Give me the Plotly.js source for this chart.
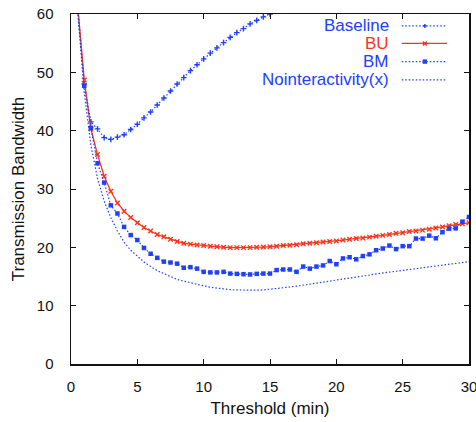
<!DOCTYPE html>
<html>
<head>
<meta charset="utf-8">
<script src="https://cdn.plot.ly/plotly-3.0.1.min.js"></script>
<style>
  html, body { margin: 0; padding: 0; background: #fff; }
  #chart { width: 476px; height: 422px; }
</style>
</head>
<body>
<div id="chart"></div>
<script>
// ---- data ----
const threshold = [0.5,1,1.5,2,2.5,3,3.5,4,4.5,5,5.5,6,6.5,7,7.5,8,8.5,9,9.5,10,
  10.5,11,11.5,12,12.5,13,13.5,14,14.5,15,15.5,16,16.5,17,17.5,18,18.5,19,19.5,20,
  20.5,21,21.5,22,22.5,23,23.5,24,24.5,25,25.5,26,26.5,27,27.5,28,28.5,29,29.5,30];

const baseline = [61.5,48.0,41.5,40.3,38.8,38.5,38.9,39.3,40.2,41.1,42.2,43.2,44.4,45.6,46.8,48.0,
  49.1,50.3,51.3,52.3,53.3,54.2,55.1,56.0,56.8,57.5,58.3,58.9,59.5,60.0,60.6,61.2];

const bu = [61.5,48.7,40.3,35.9,32.2,29.6,27.6,26.2,25.1,24.2,23.4,22.8,22.2,21.8,21.4,21.0,
  20.7,20.55,20.4,20.3,20.2,20.1,20.0,19.95,19.95,19.95,19.95,20.0,20.05,20.1,20.2,20.3,
  20.35,20.45,20.6,20.7,20.8,20.9,21.0,21.1,21.25,21.4,21.5,21.6,21.75,21.9,22.05,22.2,
  22.4,22.5,22.7,22.8,22.95,23.1,23.3,23.5,23.7,23.9,24.05,24.2];

const bm = [61.0,47.7,40.5,34.4,31.1,27.2,25.8,23.5,22.1,21.25,19.9,18.9,18.2,17.55,17.4,17.2,
  16.5,16.6,16.35,15.8,15.7,15.7,15.8,15.5,15.45,15.4,15.35,15.45,15.5,15.5,16.1,16.2,
  16.2,15.8,16.7,16.35,16.7,16.9,17.65,17.1,18.1,18.3,17.95,18.5,18.8,19.5,19.8,20.3,
  19.7,20.2,20.2,21.5,21.5,22.0,21.55,22.6,23.2,23.25,24.4,25.2];

const noInteractivity = [60.5,46.5,37.5,31.8,27.9,25.1,22.8,20.9,19.5,18.5,17.5,16.7,16.0,15.5,15.0,14.5,
  14.2,13.9,13.6,13.4,13.15,13.0,12.9,12.75,12.7,12.65,12.65,12.65,12.7,12.8,12.9,13.05,
  13.2,13.35,13.5,13.7,13.85,14.05,14.2,14.4,14.55,14.75,14.9,15.1,15.25,15.45,15.6,15.75,
  15.9,16.05,16.2,16.35,16.5,16.65,16.8,16.95,17.1,17.25,17.4,17.55];

const seriesNames = ['Baseline', 'BU', 'BM', 'Nointeractivity(x)'];
const xTicks = [0, 5, 10, 15, 20, 25, 30];
const yTicks = [0, 10, 20, 30, 40, 50, 60];

// ---- styling ----
const BLUE = '#2040ff';
const RED = '#ff3319';
const FONT = 'Liberation Sans, Arial, Helvetica, sans-serif';
const DOT = '1.5px,2px';

const traces = [
  {
    x: threshold.slice(0, baseline.length), y: baseline, name: seriesNames[0],
    mode: 'lines+markers',
    line: {color: BLUE, width: 1.2, dash: DOT},
    marker: {symbol: 'cross-thin', size: 4, line: {color: BLUE, width: 1.4}}
  },
  {
    x: threshold, y: bu, name: seriesNames[1],
    mode: 'lines+markers',
    line: {color: RED, width: 1.3},
    marker: {symbol: 'x-thin', size: 4.5, line: {color: RED, width: 1.4}}
  },
  {
    x: threshold, y: bm, name: seriesNames[2],
    mode: 'lines+markers',
    line: {color: BLUE, width: 1.2, dash: DOT},
    marker: {symbol: 'square', size: 4.5, color: BLUE}
  },
  {
    x: threshold, y: noInteractivity, name: seriesNames[3],
    mode: 'lines',
    line: {color: BLUE, width: 1.2, dash: DOT}
  }
];

// ---- custom gnuplot-style legend (text right-aligned, key to the right) ----
const legendColors = [BLUE, RED, BLUE, BLUE];
const legendY = [0.966, 0.916, 0.864, 0.812];
const keyX0 = 0.831, keyX1 = 0.945, keyXm = 0.889, textX = 0.803;

const annotations = seriesNames.map((n, i) => ({
  xref: 'paper', yref: 'paper', x: textX, y: legendY[i],
  xanchor: 'right', yanchor: 'middle', showarrow: false,
  text: n, font: {family: FONT, size: 17, color: legendColors[i]}
}));

const shapes = [];
seriesNames.forEach((n, i) => {
  const tr = traces[i];
  shapes.push({
    type: 'line', xref: 'paper', yref: 'paper',
    x0: keyX0, x1: keyX1, y0: legendY[i], y1: legendY[i],
    line: {color: tr.line.color, width: tr.line.width, dash: tr.line.dash || 'solid'}
  });
});
// key markers
shapes.push({type: 'path', xref: 'paper', yref: 'paper', xsizemode: 'pixel', ysizemode: 'pixel',
  xanchor: keyXm, yanchor: legendY[0], path: 'M-2,0H2M0,-2V2', line: {color: BLUE, width: 1.4}});
shapes.push({type: 'path', xref: 'paper', yref: 'paper', xsizemode: 'pixel', ysizemode: 'pixel',
  xanchor: keyXm, yanchor: legendY[1], path: 'M-2,-2L2,2M-2,2L2,-2', line: {color: RED, width: 1.4}});
shapes.push({type: 'rect', xref: 'paper', yref: 'paper', xsizemode: 'pixel', ysizemode: 'pixel',
  xanchor: keyXm, yanchor: legendY[2], x0: -2.2, x1: 2.2, y0: -2.2, y1: 2.2,
  fillcolor: BLUE, line: {width: 0}});

const axisCommon = {
  showline: true, linecolor: '#111', linewidth: 1.5, mirror: 'ticks',
  ticks: 'inside', ticklen: 5, tickwidth: 1, tickcolor: '#111',
  showgrid: false, zeroline: false, ticklabeloverflow: 'allow',
  tickfont: {family: FONT, size: 15, color: '#111'}
};

const layout = {
  width: 476, height: 422,
  margin: {l: 71, r: 7, t: 14, b: 57.5},
  paper_bgcolor: '#fff', plot_bgcolor: '#fff',
  showlegend: false,
  xaxis: Object.assign({}, axisCommon, {
    range: [0, 30], tickvals: xTicks, ticktext: xTicks.map(String),
    ticklabelstandoff: 8,
    title: {text: 'Threshold (min)', font: {family: FONT, size: 17, color: '#111'}, standoff: 8}
  }),
  yaxis: Object.assign({}, axisCommon, {
    range: [0, 60], tickvals: yTicks, ticktext: yTicks.map(String),
    ticklabelstandoff: 13,
    title: {text: 'Transmission Bandwidth', font: {family: FONT, size: 17, color: '#111'}, standoff: 8}
  }),
  annotations: annotations,
  shapes: shapes
};

Plotly.newPlot('chart', traces, layout, {displayModeBar: false, staticPlot: true});
</script>
</body>
</html>
